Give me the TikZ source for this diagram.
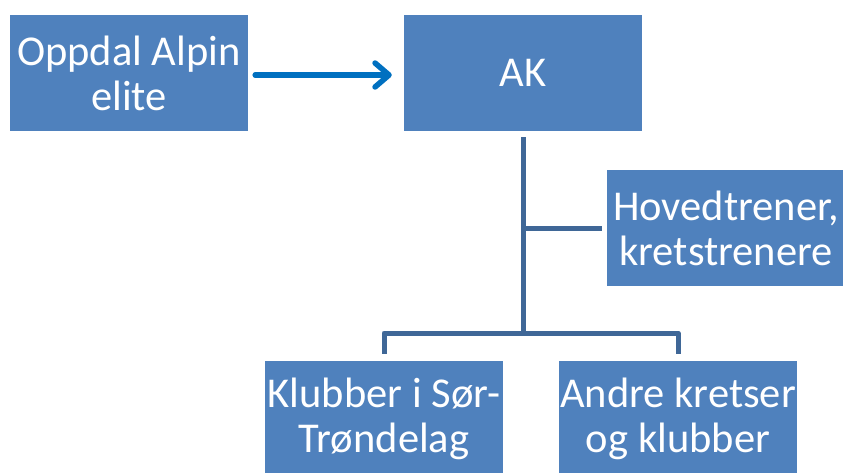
\documentclass[tikz,border=0pt]{standalone}
\usepackage{fontspec}
\setmainfont{Carlito}
\usetikzlibrary{arrows.meta}
\definecolor{boxblue}{HTML}{4F81BD}
\definecolor{linkblue}{HTML}{3F6797}
\definecolor{arrowblue}{HTML}{0070C0}
\begin{document}
\begin{tikzpicture}[x=1pt,y=-1pt,
  box/.style={fill=boxblue, draw=none, text=white, minimum width=238pt, minimum height=116pt,
    inner sep=0pt, align=center, font=\fontsize{42.5}{45}\selectfont},
  conn/.style={draw=linkblue, line width=5pt, line join=round},
  flow/.style={draw=arrowblue, line width=5.5pt, line cap=round,
    -{Straight Barb[length=14pt,width=24pt,line cap=round,line join=round]}}]
\clip (0,0) rectangle (843,473);
\node[box] (oppdal) at (129,73) {Oppdal Alpin\\elite};
\node[box] (ak) at (523,73) {AK};
\node[box] (hoved) at (726,228) {Hovedtrener,\\kretstrenere};
\node[box] (klubber) at (384,419) {Klubber i Sør-\\Trøndelag};
\node[box] (andre) at (678,419) {Andre kretser\\og klubber};
\coordinate (hub) at (ak.south |- 0,333);
\draw[flow] ([xshift=7pt,yshift=-2pt]oppdal.east) -- ([xshift=-12pt,yshift=-2pt]ak.west);
\draw[conn] ([yshift=-6pt]ak.south) -- (hub);
\draw[conn] (ak.south |- hoved.west) -- ([xshift=-5pt]hoved.west);
\draw[conn] ([yshift=7pt]klubber.north) -- (klubber.north |- hub) -- (andre.north |- hub) -- ([yshift=7pt]andre.north);
\end{tikzpicture}
\end{document}
